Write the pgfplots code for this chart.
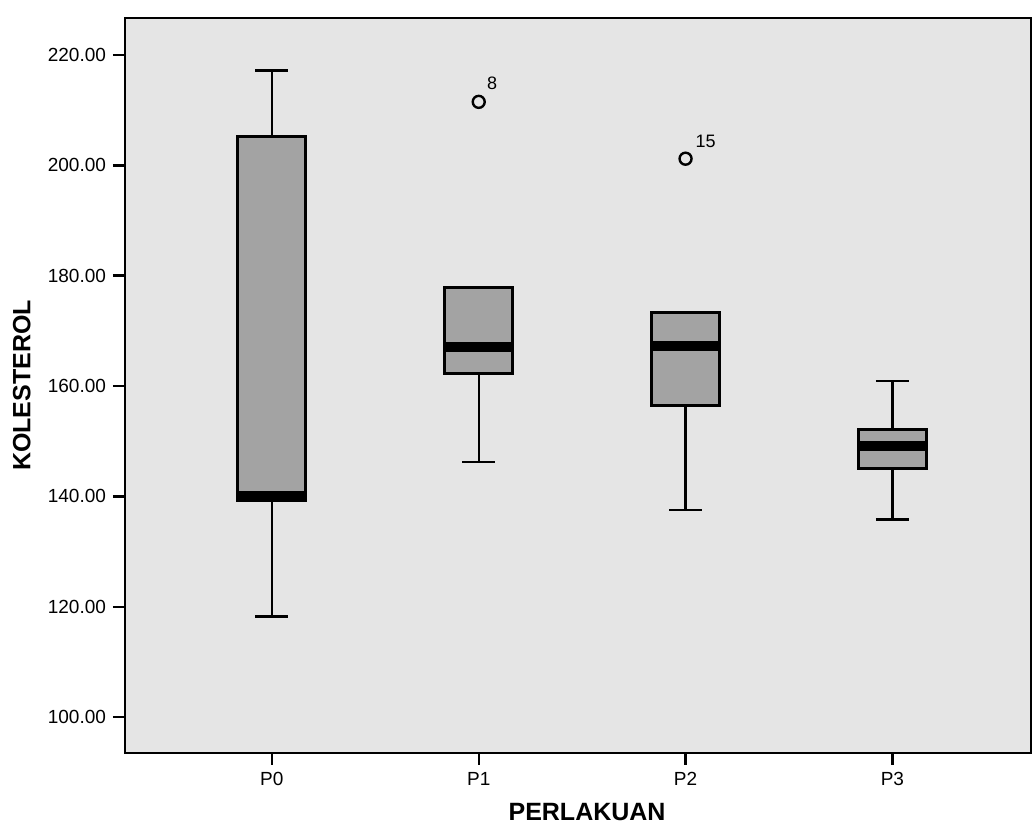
\documentclass[border=0pt]{standalone}
\usepackage{pgfplots}
\pgfplotsset{compat=1.18}
\usepgfplotslibrary{statistics}
\usepackage{fontspec}
\setmainfont{Liberation Sans}
\begin{document}
\begin{tikzpicture}
\useasboundingbox (-62.5pt,-37.5pt) rectangle (454pt,376.5pt);
\begin{axis}[
  scale only axis, width=453pt, height=367.5pt,
  xmin=-0.71, xmax=3.67, ymin=93.5, ymax=226.7,
  axis background/.style={fill=black!10},
  axis line style={line width=1pt},
  xtick={0,1,2,3}, xticklabels={P0,P1,P2,P3},
  ytick={100,120,140,160,180,200,220},
  tick align=outside, major tick length=6pt,
  tick style={black, line width=1.2pt},
  xtick pos=bottom, ytick pos=left,
  /pgf/number format/fixed, /pgf/number format/fixed zerofill,
  /pgf/number format/precision=2, /pgf/number format/assume math mode=true,
  ticklabel style={font=\fontsize{9.5}{11}\selectfont},
  xlabel={PERLAKUAN}, ylabel={KOLESTEROL},
  every axis x label/.style={at={(axis description cs:0.51,-0.080)}, anchor=center, font=\bfseries\fontsize{12.5}{15}\selectfont},
  every axis y label/.style={at={(axis description cs:-0.114,0.5)}, rotate=90, anchor=center, font=\bfseries\fontsize{12.5}{15}\selectfont},
  boxplot/draw direction=y,
  boxplot/box extend=0.33,
  boxplot/whisker extend=0.16,
  boxplot/every box/.style={draw=black, line width=1.5pt, fill=black!36},
  boxplot/every whisker/.style={black, line width=1.2pt},
  boxplot/every median/.style={black, line width=5pt},
]
\addplot[mark=o, mark size=3pt, mark options={black, line width=1.2pt},
  boxplot prepared={draw position=0, lower whisker=118.2, lower quartile=139.3,
    median=140.1, upper quartile=205.3, upper whisker=217.2}]
  coordinates {};
\addplot[mark=o, mark size=3pt, mark options={black, line width=1.2pt},
  boxplot prepared={draw position=1, lower whisker=146.2, lower quartile=162.2,
    median=167.0, upper quartile=177.9, upper whisker=177.9}]
  table[row sep=\\, y index=0] {211.5\\};
\addplot[mark=o, mark size=3pt, mark options={black, line width=1.2pt},
  boxplot prepared={draw position=2, lower whisker=137.5, lower quartile=156.5,
    median=167.3, upper quartile=173.4, upper whisker=173.4}]
  table[row sep=\\, y index=0] {201.2\\};
\addplot[mark=o, mark size=3pt, mark options={black, line width=1.2pt},
  boxplot prepared={draw position=3, lower whisker=135.8, lower quartile=145.0,
    median=149.1, upper quartile=152.1, upper whisker=160.9}]
  coordinates {};
\node[font=\fontsize{9}{10}\selectfont] at (axis cs:1.065,214.9) {8};
\node[font=\fontsize{9}{10}\selectfont] at (axis cs:2.097,204.3) {15};
\end{axis}
\end{tikzpicture}
\end{document}
